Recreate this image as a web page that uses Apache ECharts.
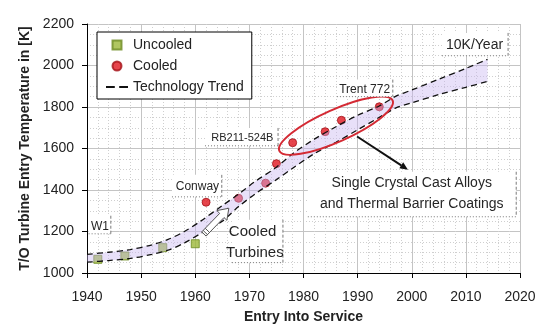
<!DOCTYPE html>
<html>
<head>
<meta charset="utf-8">
<script src="https://cdn.jsdelivr.net/npm/echarts@6/dist/echarts.min.js"></script>
<style>
html,body{margin:0;padding:0;background:#fff;}
#chart{width:540px;height:332px;}
</style>
</head>
<body>
<div id="chart"></div>
<script>
// ---- data ----
const uncooledYears = [1942, 1947, 1954, 1960];
const uncooledTemps = [1066, 1082, 1122, 1141];

const cooledYears = [1962, 1968, 1973, 1975, 1978, 1984, 1987, 1994];
const cooledTemps = [1341, 1360, 1433, 1527, 1628, 1681, 1736, 1801];

const trendYears = [1940, 1944, 1948, 1952, 1955, 1958, 1961, 1965, 1968, 1971, 1975, 1978, 1982, 1986, 1990, 1994, 1997, 2000, 2005, 2010, 2014];
const trendUpper = [1090, 1100, 1113, 1136, 1162, 1200, 1250, 1325, 1380, 1440, 1510, 1575, 1645, 1705, 1760, 1805, 1851, 1882, 1934, 1986, 2030];
const trendLower = [1052, 1060, 1070, 1090, 1110, 1145, 1190, 1250, 1320, 1380, 1450, 1505, 1575, 1630, 1690, 1750, 1795, 1820, 1860, 1895, 1923];

const xAxisName = 'Entry Into Service';
const yAxisName = 'T/O Turbine Entry Temperature in [K]';

const FONT = "'Liberation Sans', Arial, sans-serif";

const chart = echarts.init(document.getElementById('chart'), null, {renderer: 'canvas'});

const pairs = (xs, ys) => xs.map((x, i) => [x, ys[i]]);

function renderBand(params, api) {
  const up = trendYears.map((x, i) => api.coord([x, trendUpper[i]]));
  const lo = trendYears.map((x, i) => api.coord([x, trendLower[i]])).reverse();
  return {type: 'polygon', shape: {points: up.concat(lo)},
    style: {fill: 'rgba(200,180,240,0.42)', stroke: 'none'}};
}

function renderAnnotations(params, api) {
  const c = (x, y) => api.coord([x, y]);
  const kids = [];
  const textColor = '#262626';
  const borderColor = '#7a7a7a';

  function box(l, t, r, b) {
    const p1 = c(l, t), p2 = c(r, b);
    kids.push({type: 'rect', shape: {x: p1[0], y: p1[1], width: p2[0] - p1[0], height: p2[1] - p1[1]},
      style: {fill: '#fff'}});
    kids.push({type: 'line', shape: {x1: p2[0], y1: p1[1], x2: p2[0], y2: p2[1]},
      style: {stroke: borderColor, lineWidth: 1, lineDash: [3, 2]}});
    kids.push({type: 'line', shape: {x1: p1[0], y1: p2[1], x2: p2[0], y2: p2[1]},
      style: {stroke: borderColor, lineWidth: 1, lineDash: [1, 2]}});
  }
  function text(x, y, s, size) {
    const p = c(x, y);
    kids.push({type: 'text', x: p[0], y: p[1],
      style: {text: s, fill: textColor, font: size + 'px ' + FONT, align: 'center', verticalAlign: 'middle'}});
  }

  // ellipse around the recent engines
  const ec = c(1986, 1710);
  kids.push({type: 'ellipse', x: ec[0], y: ec[1], rotation: 24 * Math.PI / 180,
    shape: {cx: 0, cy: 0, rx: 62, ry: 16},
    style: {fill: 'none', stroke: '#d42a34', lineWidth: 2}});

  // arrow from ellipse to text
  const a0 = c(1989.9, 1658), a1 = c(1999.3, 1498);
  const ang = Math.atan2(a1[1] - a0[1], a1[0] - a0[0]);
  const hl = 8, hw = 3.5;
  const bx = a1[0] - hl * Math.cos(ang), by = a1[1] - hl * Math.sin(ang);
  kids.push({type: 'line', shape: {x1: a0[0], y1: a0[1], x2: bx, y2: by}, style: {stroke: '#111', lineWidth: 2}});
  kids.push({type: 'polygon', shape: {points: [
    [a1[0], a1[1]],
    [bx + hw * Math.sin(ang), by - hw * Math.cos(ang)],
    [bx - hw * Math.sin(ang), by + hw * Math.cos(ang)]
  ]}, style: {fill: '#111'}});

  // hollow arrow (cooled turbines)
  const t0 = c(1961.6, 1188), t1 = c(1966.2, 1312);
  const g = Math.atan2(t1[1] - t0[1], t1[0] - t0[0]);
  const L = Math.hypot(t1[0] - t0[0], t1[1] - t0[1]);
  const sw = 3, hw2 = 7, hl2 = 10;
  const loc = (u, v) => [t0[0] + u * Math.cos(g) - v * Math.sin(g), t0[1] + u * Math.sin(g) + v * Math.cos(g)];
  kids.push({type: 'polygon', shape: {points: [
    loc(0, -sw), loc(L - hl2, -sw), loc(L - hl2, -hw2), loc(L, 0), loc(L - hl2, hw2), loc(L - hl2, sw), loc(0, sw)
  ]}, style: {fill: '#fff', stroke: '#555', lineWidth: 1}});
  [2, 5].forEach(u => {
    const q1 = loc(u, -sw), q2 = loc(u, sw);
    kids.push({type: 'line', shape: {x1: q1[0], y1: q1[1], x2: q2[0], y2: q2[1]}, style: {stroke: '#555', lineWidth: 1}});
  });

  // text boxes
  box(1980.8, 1488, 2019.3, 1271);
  text(2000, 1435, 'Single Crystal Cast Alloys', 14);
  text(2000, 1334, 'and Thermal Barrier Coatings', 14);

  box(2005.6, 2157, 2017.8, 2047);
  text(2011.6, 2099, '10K/Year', 14);

  box(1986.2, 1932, 1996.5, 1850);
  text(1991.3, 1885, 'Trent 772', 12);

  box(1961.8, 1699, 1975.3, 1613);
  text(1968.7, 1652, 'RB211-524B', 11);

  box(1955.7, 1473, 1964.9, 1367);
  text(1960.4, 1416, 'Conway', 12);

  box(1940.3, 1276, 1944.4, 1189);
  text(1942.4, 1224, 'W1', 12);

  box(1966.8, 1257, 1976.2, 1050);
  text(1970.6, 1199, 'Cooled', 15);
  text(1971.0, 1098, 'Turbines', 15);

  return {type: 'group', children: kids};
}

const trendLine = {type: 'line', symbol: 'none', smooth: 0.3, silent: true, z: 4,
  itemStyle: {color: '#111'},
  lineStyle: {color: '#111', width: 1.3, type: [6, 4]}};

const option = {
  animation: false,
  backgroundColor: '#fff',
  textStyle: {fontFamily: FONT},
  grid: {left: 87, right: 20, top: 24, bottom: 59, containLabel: false},
  legend: {
    left: 97, top: 32, orient: 'vertical',
    data: [
      {name: 'Uncooled', icon: 'path://M0,0h10v10h-10z'},
      {name: 'Cooled', icon: 'circle'},
      {name: 'Technology Trend', icon: 'path://M0,0h8v2h-8z M12,0h8v2h-8z'}
    ],
    itemWidth: 22, itemHeight: 9, itemGap: 7,
    padding: [6, 8, 5, 9],
    backgroundColor: '#fff', borderColor: '#000', borderWidth: 1,
    textStyle: {fontSize: 14, color: '#222', fontFamily: FONT}
  },
  xAxis: {
    type: 'value', min: 1940, max: 2020, interval: 10,
    name: xAxisName, nameLocation: 'middle', nameGap: 37,
    nameTextStyle: {fontSize: 14, fontWeight: 'bold', color: '#222', fontFamily: FONT},
    axisLine: {lineStyle: {color: '#000', width: 1}},
    axisTick: {show: true, length: 5, inside: false, lineStyle: {color: '#000'}},
    axisLabel: {fontSize: 14, color: '#222', margin: 17, fontFamily: FONT, formatter: v => String(v)},
    splitLine: {show: true, lineStyle: {color: '#c4c4c4', width: 1}},
    minorTick: {show: false, splitNumber: 5},
    minorSplitLine: {show: true, lineStyle: {color: '#cfcfcf', width: 1, type: [1, 2]}}
  },
  yAxis: {
    type: 'value', min: 1000, max: 2200, interval: 200,
    name: yAxisName, nameLocation: 'middle', nameGap: 54,
    nameTextStyle: {fontSize: 14, fontWeight: 'bold', color: '#222', fontFamily: FONT},
    axisLine: {show: true, lineStyle: {color: '#000', width: 1}},
    axisTick: {show: true, length: 5, inside: false, lineStyle: {color: '#000'}},
    axisLabel: {fontSize: 14, color: '#222', margin: 13, fontFamily: FONT, formatter: v => String(v)},
    splitLine: {show: true, lineStyle: {color: '#c4c4c4', width: 1}},
    minorTick: {show: false, splitNumber: 4},
    minorSplitLine: {show: true, lineStyle: {color: '#cfcfcf', width: 1, type: [1, 2]}}
  },
  series: [
    {name: 'Uncooled', type: 'scatter', symbol: 'rect', symbolSize: 8, z: 2,
      itemStyle: {color: '#9cb83a', borderColor: '#6c8a1f', borderWidth: 1},
      data: pairs(uncooledYears, uncooledTemps)},
    {name: 'Cooled', type: 'scatter', symbol: 'circle', symbolSize: 8, z: 2,
      itemStyle: {color: '#e0161f', borderColor: '#a31016', borderWidth: 1},
      data: pairs(cooledYears, cooledTemps)},
    {name: 'band', type: 'custom', coordinateSystem: 'cartesian2d', silent: true, z: 3,
      renderItem: renderBand, data: [[trendYears[0], trendLower[0]]]},
    Object.assign({name: 'Technology Trend', data: pairs(trendYears, trendUpper)}, trendLine),
    Object.assign({name: 'Technology Trend', data: pairs(trendYears, trendLower)}, trendLine),
    {name: 'annotations', type: 'custom', coordinateSystem: 'cartesian2d', clip: false, silent: true, z: 5,
      renderItem: renderAnnotations, data: [[1990, 1600]]}
  ]
};
chart.setOption(option);
</script>
</body>
</html>
